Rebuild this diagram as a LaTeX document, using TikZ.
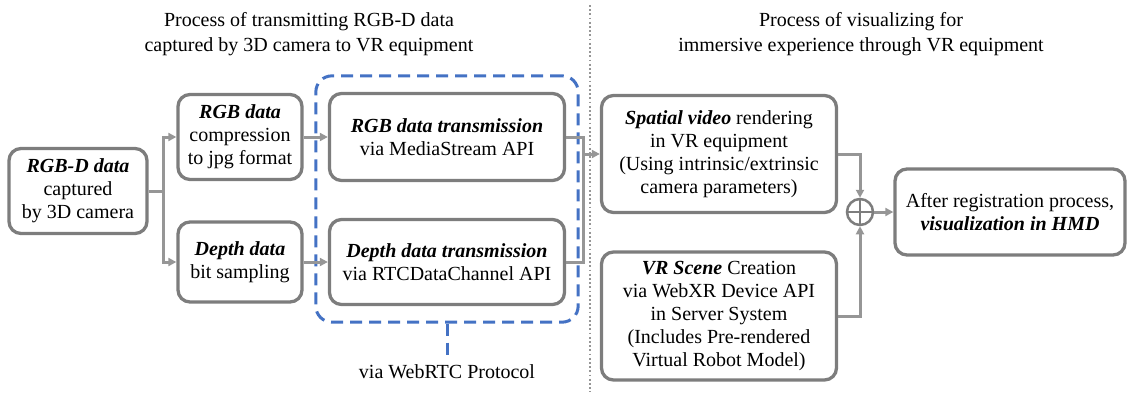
\documentclass[tikz,border=0pt]{standalone}
\usepackage{fontspec}
\setmainfont{Liberation Serif}
\usepackage{xcolor}
\usepackage{tikz}
\usetikzlibrary{positioning,shapes,arrows.meta,calc,fit}
\definecolor{boxgray}{RGB}{125,125,125}
\definecolor{linegray}{RGB}{150,150,150}
\definecolor{webblue}{RGB}{68,114,196}
\newcommand{\keyterm}[1]{\textbf{\textit{#1}}}
\begin{document}
\begin{tikzpicture}[x=1pt,y=-1pt,font=\fontsize{20}{23}\selectfont,
		stage/.style={draw=boxgray, line width=3.3pt, rounded corners=12pt, fill=white,
		align=center, inner sep=2pt},
		link/.style={draw=linegray, line width=3pt},
		arr/.style={link, -{Triangle[length=8pt,width=8pt]}},
		webrtc/.style={draw=webblue, line width=3pt, dash pattern=on 12pt off 7pt, rounded corners=16pt}]
		\useasboundingbox (0,0) rectangle (1129,397);
		\node[align=center, font=\fontsize{20}{25}\selectfont] (ttlL) at (309,34)
			{Process of transmitting RGB-D data\\captured by 3D camera to VR equipment};
		\node[align=center, font=\fontsize{20}{25}\selectfont] (ttlR) at (861,34)
			{Process of visualizing for\\immersive experience through VR equipment};
		\draw[linegray, line width=1.8pt, dash pattern=on 1.8pt off 2.4pt] (590,5) -- (590,392);

		\node[stage, minimum width=138, minimum height=85] (rgbd) at (78,191)
			{\keyterm{RGB-D data}\\captured\\by 3D camera};
		\node[stage, minimum width=124, minimum height=85] (rgbcomp) at (240,137)
			{\keyterm{RGB data}\\compression\\to jpg format};
		\node[stage, minimum width=124, minimum height=80] (depthbit) at (240,262)
			{\keyterm{Depth data}\\bit sampling};
		\node[stage, minimum width=235, minimum height=87] (rgbtx) at (447,137)
			{\keyterm{RGB data transmission}\\via MediaStream API};
		\node[stage, minimum width=235, minimum height=85] (depthtx) at (447,262)
			{\keyterm{Depth data transmission}\\via RTCDataChannel API};
		\node[webrtc, fit=(rgbtx)(depthtx), inner xsep=12pt, inner ysep=16pt] (rtcbox) {};
		\node (proto) at (447,372) {via WebRTC Protocol};

		\node[stage, minimum width=235, minimum height=117] (spatial) at (719,154)
			{\keyterm{Spatial video} rendering\\in VR equipment\\(Using intrinsic/extrinsic\\camera parameters)};
		\node[stage, minimum width=235, minimum height=128] (vrscene) at (719,316)
			{\keyterm{VR Scene} Creation\\via WebXR Device API\\in Server System\\(Includes Pre-rendered\\Virtual Robot Model)};
		\node[draw=boxgray, line width=2.5pt, circle, minimum size=26pt, inner sep=0pt] (sum) at (860,212) {};
		\draw[boxgray, line width=2.5pt] (sum.north) -- (sum.south) (sum.west) -- (sum.east);
		\node[stage, minimum width=230, minimum height=86] (hmd) at (1010,212)
			{After registration process,\\\keyterm{visualization in HMD}};

		\coordinate (split) at (163,191);
		\coordinate (merge) at (583,154);
		\draw[link] (rgbd.east) -- (split);
		\draw[arr] (split) |- (rgbcomp.west);
		\draw[arr] (split) |- (depthbit.west);
		\draw[arr] (rgbcomp) -- (rgbtx);
		\draw[arr] (depthbit) -- (depthtx);
		\draw[link] (rgbtx.east) -| (merge |- depthtx.east) -- (depthtx.east);
		\draw[arr] (merge) -- (spatial.west);
		\draw[webrtc, rounded corners=0pt] (rtcbox.south) -- (proto.north);
		\draw[arr] (spatial.east) -| (sum.north);
		\draw[arr] (vrscene.east) -| (sum.south);
		\draw[arr] (sum) -- (hmd);
\end{tikzpicture}
\end{document}
